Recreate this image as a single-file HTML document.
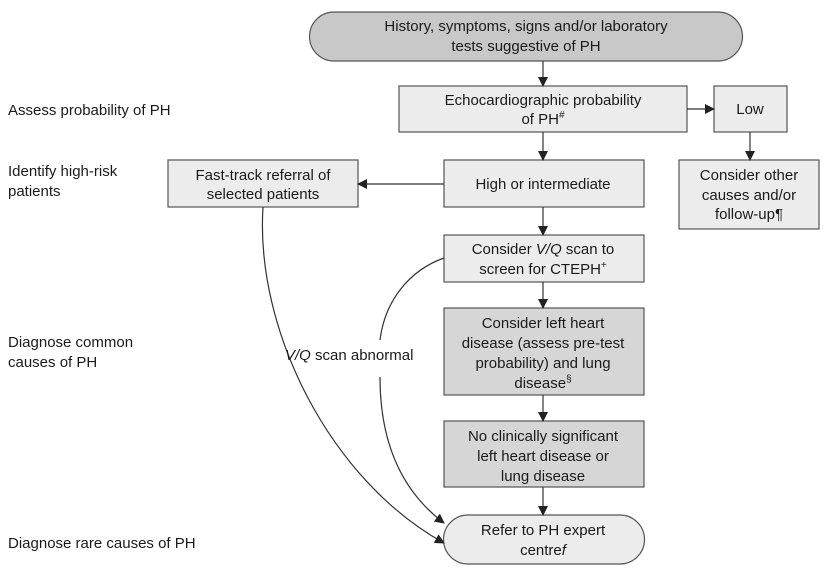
<!DOCTYPE html>
<html><head><style>
body{margin:0;background:#fff;}
svg text{font-family:"Liberation Sans",sans-serif;font-size:15px;fill:#1a1a1a;}
</style></head><body>
<svg width="832" height="572" viewBox="0 0 832 572" xmlns="http://www.w3.org/2000/svg">
<defs><marker id="a" markerWidth="10" markerHeight="10" refX="9" refY="5" orient="auto" markerUnits="userSpaceOnUse"><path d="M0,0 L10,5 L0,10 z" fill="#222"/></marker></defs>
<g stroke="#555" stroke-width="1.2">
<path d="M334,12 H718 A24,24 0 0 1 718,61 H334 A24,24 0 0 1 334,12 Z" fill="#c8c8c8"/>
<rect x="399" y="86" width="288" height="46" fill="#ececec"/>
<rect x="714" y="86" width="73" height="46" fill="#ececec"/>
<rect x="444" y="160" width="200" height="47" fill="#ececec"/>
<rect x="679" y="160" width="140" height="69" fill="#ececec"/>
<rect x="444" y="235" width="200" height="47" fill="#ececec"/>
<rect x="444" y="308" width="200" height="87" fill="#d6d6d6"/>
<rect x="444" y="421" width="200" height="66" fill="#d6d6d6"/>
<path d="M468,515 H620 A24,24 0 0 1 620,564 H468 A24,24 0 0 1 468,515 Z" fill="#ececec"/>
<rect x="168" y="160" width="190" height="47" fill="#ececec"/>
</g>
<g stroke="#333" stroke-width="1.2" fill="none" marker-end="url(#a)">
<line x1="543" y1="61" x2="543" y2="86"/>
<line x1="687" y1="109" x2="714" y2="109"/>
<line x1="750" y1="132" x2="750" y2="160"/>
<line x1="543" y1="132" x2="543" y2="160"/>
<line x1="444" y1="184" x2="358" y2="184"/>
<line x1="543" y1="207" x2="543" y2="235"/>
<line x1="543" y1="282" x2="543" y2="308"/>
<line x1="543" y1="395" x2="543" y2="421"/>
<line x1="543" y1="487" x2="543" y2="515"/>
<path d="M263,207 C255,330 330,480 444,543"/>
<path d="M380,377 C380,440 400,490 444,523"/>
</g>
<path d="M444,258 C410,270 385,300 380,340" stroke="#333" stroke-width="1.2" fill="none"/>
<g text-anchor="middle">
<text x="526" y="31">History, symptoms, signs and/or laboratory</text>
<text x="526" y="51">tests suggestive of PH</text>
<text x="543" y="105">Echocardiographic probability</text>
<text x="543" y="124">of PH<tspan font-size="10" dy="-6">#</tspan></text>
<text x="750" y="114">Low</text>
<text x="543" y="189">High or intermediate</text>
<text x="749" y="180">Consider other</text>
<text x="749" y="200">causes and/or</text>
<text x="749" y="219">follow-up¶</text>
<text x="543" y="254">Consider <tspan font-style="italic">V/Q</tspan> scan to</text>
<text x="543" y="274">screen for CTEPH<tspan font-size="10" dy="-6">+</tspan></text>
<text x="543" y="328">Consider left heart</text>
<text x="543" y="348">disease (assess pre-test</text>
<text x="543" y="368">probability) and lung</text>
<text x="543" y="388">disease<tspan font-size="10" dy="-6">§</tspan></text>
<text x="543" y="441">No clinically significant</text>
<text x="543" y="461">left heart disease or</text>
<text x="543" y="481">lung disease</text>
<text x="543" y="535">Refer to PH expert</text>
<text x="543" y="555">centre<tspan font-style="italic">f</tspan></text>
<text x="263" y="180">Fast-track referral of</text>
<text x="263" y="199">selected patients</text>
</g>
<text x="285" y="360"><tspan font-style="italic">V/Q</tspan> scan abnormal</text>
<text x="8" y="115">Assess probability of PH</text>
<text x="8" y="176">Identify high-risk</text>
<text x="8" y="196">patients</text>
<text x="8" y="347">Diagnose common</text>
<text x="8" y="367">causes of PH</text>
<text x="8" y="548">Diagnose rare causes of PH</text>
</svg>
</body></html>
